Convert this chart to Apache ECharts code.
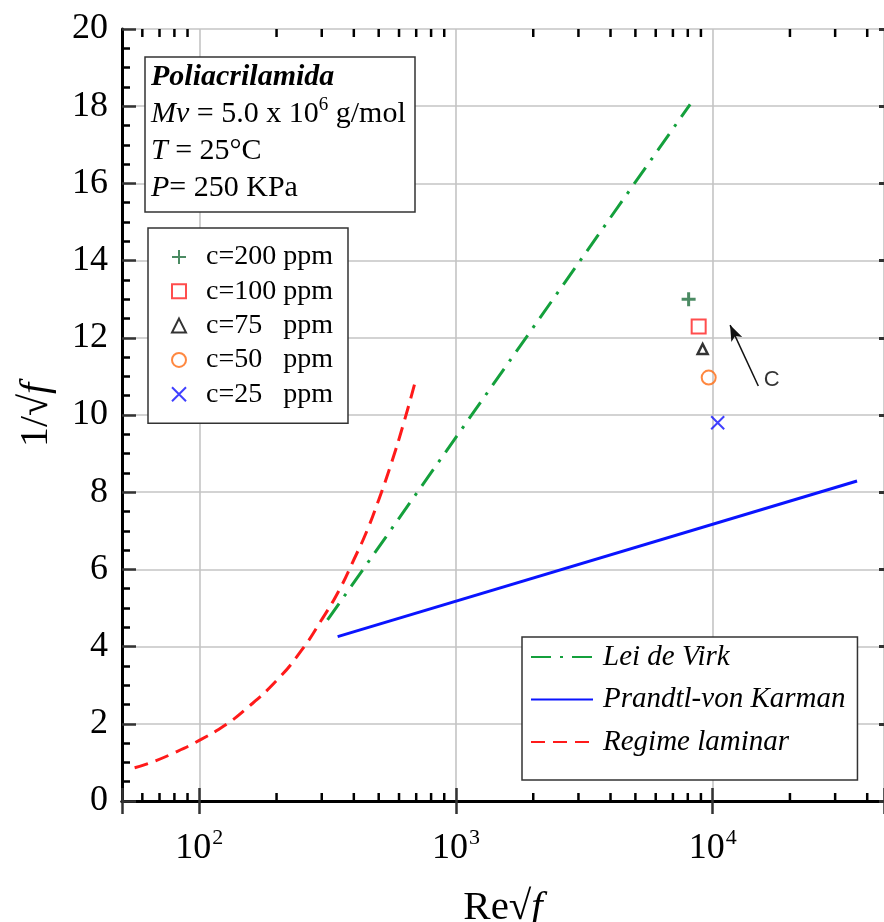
<!DOCTYPE html>
<html>
<head>
<meta charset="utf-8">
<script src="https://cdn.jsdelivr.net/npm/echarts@6/dist/echarts.min.js"></script>
<style>html,body{margin:0;padding:0;background:#fff;}#c{width:884px;height:922px;}</style>
</head>
<body>
<div id="c"></div>
<script>
// ---- data ----
const xMin = 50, xMax = 46500, yMin = 0, yMax = 20;
const xMinorTicks = [60,70,80,90,200,300,400,500,600,700,800,900,2000,3000,4000,5000,6000,7000,8000,9000,20000,30000,40000];

const virk = [[316, 4.69], [8170, 18.05]];
const prandtl = [[346, 4.26], [36510, 8.29]];
const laminarX = [56, 65, 80, 100, 125, 150, 200, 250, 300, 350, 400, 450, 500, 560, 620, 690];
const laminarY = [0.86, 1.0, 1.25, 1.57, 1.95, 2.35, 3.12, 3.9, 4.7, 5.45, 6.25, 7.0, 7.8, 8.75, 9.7, 10.8];

const c200 = [[8060, 13.0]];
const c100 = [[8820, 12.29]];
const c75 = [[9140, 11.71]];
const c50 = [[9650, 10.97]];
const c25 = [[10460, 9.80]];

const arrowFrom = [15060, 10.75];
const arrowTo = [11690, 12.33];
const cLabelPos = [16980, 10.9];

const scatterNames = ['c=200 ppm', 'c=100 ppm', 'c=75   ppm', 'c=50   ppm', 'c=25   ppm'];
const lineNames = ['Lei de Virk', 'Prandtl-von Karman', 'Regime laminar'];

// ---- chart ----
const serif = 'Liberation Serif';
const chart = echarts.init(document.getElementById('c'), null, {renderer: 'canvas'});

const xLabelFmt = function (v) {
  const l = Math.log10(v);
  const e = Math.round(l);
  if (Math.abs(l - e) > 1e-6) return '';
  return '{a|10}{s|' + e + '}';
};

const gridLine = {show: true, lineStyle: {color: '#c4c4c4', width: 1.6}};
const hiddenSymbol = {color: 'rgba(0,0,0,0)', borderColor: 'rgba(0,0,0,0)', borderWidth: 0, opacity: 0};

const option = {
  backgroundColor: '#fff',
  animation: false,
  title: {
    left: 145, top: 57,
    padding: [2, 10, 5, 6],
    borderColor: '#333', borderWidth: 1.5, backgroundColor: '#fff',
    text: '{b|Poliacrilamida}\n{i|Mv} = 5.0 x 10{s|6} g/mol\n{i|T} = 25°C\n{i|P}= 250 KPa',
    textStyle: {
      fontFamily: serif, fontSize: 30, fontWeight: 'normal', color: '#000', lineHeight: 37,
      rich: {
        b: {fontFamily: serif, fontSize: 30, fontWeight: 'bold', fontStyle: 'italic', color: '#000', lineHeight: 37},
        i: {fontFamily: serif, fontSize: 30, fontStyle: 'italic', color: '#000', lineHeight: 37},
        s: {fontFamily: serif, fontSize: 19, color: '#000', verticalAlign: 'top', lineHeight: 37, padding: [0, 0, 14, 0]}
      }
    }
  },
  legend: [
    {
      data: scatterNames,
      orient: 'vertical', left: 148, top: 228,
      padding: [14, 15, 14, 23],
      itemGap: 4.3, itemWidth: 14, itemHeight: 14,
      borderColor: '#333', borderWidth: 1.5, backgroundColor: '#fff',
      textStyle: {fontFamily: serif, fontSize: 28, color: '#000', lineHeight: 30, padding: [0, 0, 0, 15]},
      selectedMode: false
    },
    {
      data: lineNames,
      orient: 'vertical', left: 522, top: 637,
      padding: [4, 12, 22, 8],
      itemGap: 10.5, itemWidth: 62, itemHeight: 14,
      borderColor: '#333', borderWidth: 1.5, backgroundColor: '#fff',
      itemStyle: hiddenSymbol,
      textStyle: {fontFamily: serif, fontSize: 29, fontStyle: 'italic', color: '#000', lineHeight: 32, padding: [0, 0, 0, 5]},
      selectedMode: false
    }
  ],
  grid: {left: 122, top: 29, right: 0, bottom: 121, containLabel: false, outerBoundsMode: 'none'},
  xAxis: [
    {
      type: 'log', logBase: 10, min: xMin, max: xMax, position: 'bottom',
      name: '{r|Re√}{f|f}', nameLocation: 'middle', nameGap: 87,
      nameTextStyle: {rich: {
        r: {fontFamily: serif, fontSize: 41, color: '#000'},
        f: {fontFamily: serif, fontSize: 41, fontStyle: 'italic', color: '#000'}
      }},
      axisLine: {show: true, lineStyle: {color: '#000', width: 3}},
      axisTick: {show: true, inside: true, length: 13, lineStyle: {color: '#333', width: 2.5}},
      axisLabel: {
        interval: 0, margin: 26, formatter: xLabelFmt,
        rich: {
          a: {fontFamily: serif, fontSize: 36, color: '#000', lineHeight: 40, verticalAlign: 'bottom'},
          s: {fontFamily: serif, fontSize: 22, color: '#000', lineHeight: 40, verticalAlign: 'top', padding: [0, 0, 0, 1]}
        }
      },
      splitLine: gridLine
    },
    {
      type: 'log', logBase: 10, min: xMin, max: xMax, position: 'top',
      axisLine: {show: true, lineStyle: {color: '#000', width: 3}},
      axisTick: {show: true, inside: true, length: 13, lineStyle: {color: '#333', width: 2.5}},
      axisLabel: {show: false},
      splitLine: {show: false}
    }
  ],
  yAxis: [
    {
      type: 'value', min: yMin, max: yMax, interval: 2, position: 'left',
      name: '{r|1/√}{f|f}', nameLocation: 'middle', nameGap: 66, nameRotate: 90,
      nameTextStyle: {rich: {
        r: {fontFamily: serif, fontSize: 40, color: '#000'},
        f: {fontFamily: serif, fontSize: 40, fontStyle: 'italic', color: '#000'}
      }},
      axisLine: {show: true, lineStyle: {color: '#000', width: 3}},
      axisTick: {show: true, inside: true, length: 14, lineStyle: {color: '#333', width: 2.5}},
      minorTick: {show: true, splitNumber: 4, length: 8, lineStyle: {color: '#000', width: 2.5}},
      axisLabel: {fontFamily: serif, fontSize: 36, color: '#000', margin: 14},
      splitLine: gridLine
    },
    {
      type: 'value', min: yMin, max: yMax, interval: 2, position: 'right',
      axisLine: {show: false},
      axisTick: {show: true, inside: true, length: 5, lineStyle: {color: '#333', width: 3}},
      minorTick: {show: false},
      axisLabel: {show: false},
      splitLine: {show: false}
    }
  ],
  series: [
    {
      name: 'minorTicksX', type: 'custom', silent: true, clip: false, z: 10,
      xAxisIndex: 0, yAxisIndex: 0,
      data: xMinorTicks.map(v => [v, yMin]),
      renderItem: function (params, api) {
        const v = api.value(0);
        const b = api.coord([v, yMin]);
        const t = api.coord([v, yMax]);
        return {type: 'group', children: [
          {type: 'line', shape: {x1: b[0], y1: b[1], x2: b[0], y2: b[1] - 8}, style: {stroke: '#000', lineWidth: 2.5}},
          {type: 'line', shape: {x1: t[0], y1: t[1], x2: t[0], y2: t[1] + 8}, style: {stroke: '#000', lineWidth: 2.5}}
        ]};
      }
    },
    {
      name: 'Lei de Virk', type: 'line', symbol: 'none', data: virk,
      lineStyle: {color: '#14a03c', width: 3, type: [20, 9, 3, 9]},
      itemStyle: {color: '#14a03c'}, z: 3
    },
    {
      name: 'Prandtl-von Karman', type: 'line', symbol: 'none', data: prandtl,
      lineStyle: {color: '#0a14ff', width: 3, type: 'solid'},
      itemStyle: {color: '#0a14ff'}, z: 3
    },
    {
      name: 'Regime laminar', type: 'line', symbol: 'none', smooth: true,
      data: laminarX.map((x, i) => [x, laminarY[i]]),
      lineStyle: {color: '#ff1a1a', width: 3, type: [14, 8]},
      itemStyle: {color: '#ff1a1a'}, z: 3
    },
    {
      name: scatterNames[0], type: 'scatter', data: c200,
      symbol: 'path://M5,0V10M0,5H10', symbolSize: 14,
      itemStyle: {color: 'rgba(0,0,0,0)', borderColor: '#1e6e3c', borderWidth: 3}, z: 5
    },
    {
      name: scatterNames[1], type: 'scatter', data: c100,
      symbol: 'rect', symbolSize: 14,
      itemStyle: {color: 'rgba(255,255,255,0)', borderColor: '#ff2020', borderWidth: 2}, z: 5
    },
    {
      name: scatterNames[2], type: 'scatter', data: c75,
      symbol: 'triangle', symbolSize: 10,
      itemStyle: {color: 'rgba(255,255,255,0)', borderColor: '#000', borderWidth: 2.5}, z: 5
    },
    {
      name: scatterNames[3], type: 'scatter', data: c50,
      symbol: 'circle', symbolSize: 14,
      itemStyle: {color: 'rgba(255,255,255,0)', borderColor: '#ff6a10', borderWidth: 2}, z: 5
    },
    {
      name: scatterNames[4], type: 'scatter', data: c25,
      symbol: 'path://M0,0L10,10M10,0L0,10', symbolSize: 13,
      itemStyle: {color: 'rgba(0,0,0,0)', borderColor: '#1010ff', borderWidth: 2}, z: 5,
      markLine: {
        silent: true, symbol: ['none', 'arrow'], symbolSize: [9, 16],
        label: {show: false},
        lineStyle: {color: '#111', width: 1.5, type: 'solid'},
        data: [[{coord: arrowFrom}, {coord: arrowTo}]]
      }
    },
    {
      name: 'annot', type: 'scatter', data: [cLabelPos], symbolSize: 1, silent: true,
      itemStyle: {color: 'rgba(0,0,0,0)'},
      label: {show: true, position: 'inside', formatter: 'C', fontFamily: 'Liberation Sans', fontSize: 22, color: '#000'}
    }
  ]
};
chart.setOption(option);
</script>
</body>
</html>
